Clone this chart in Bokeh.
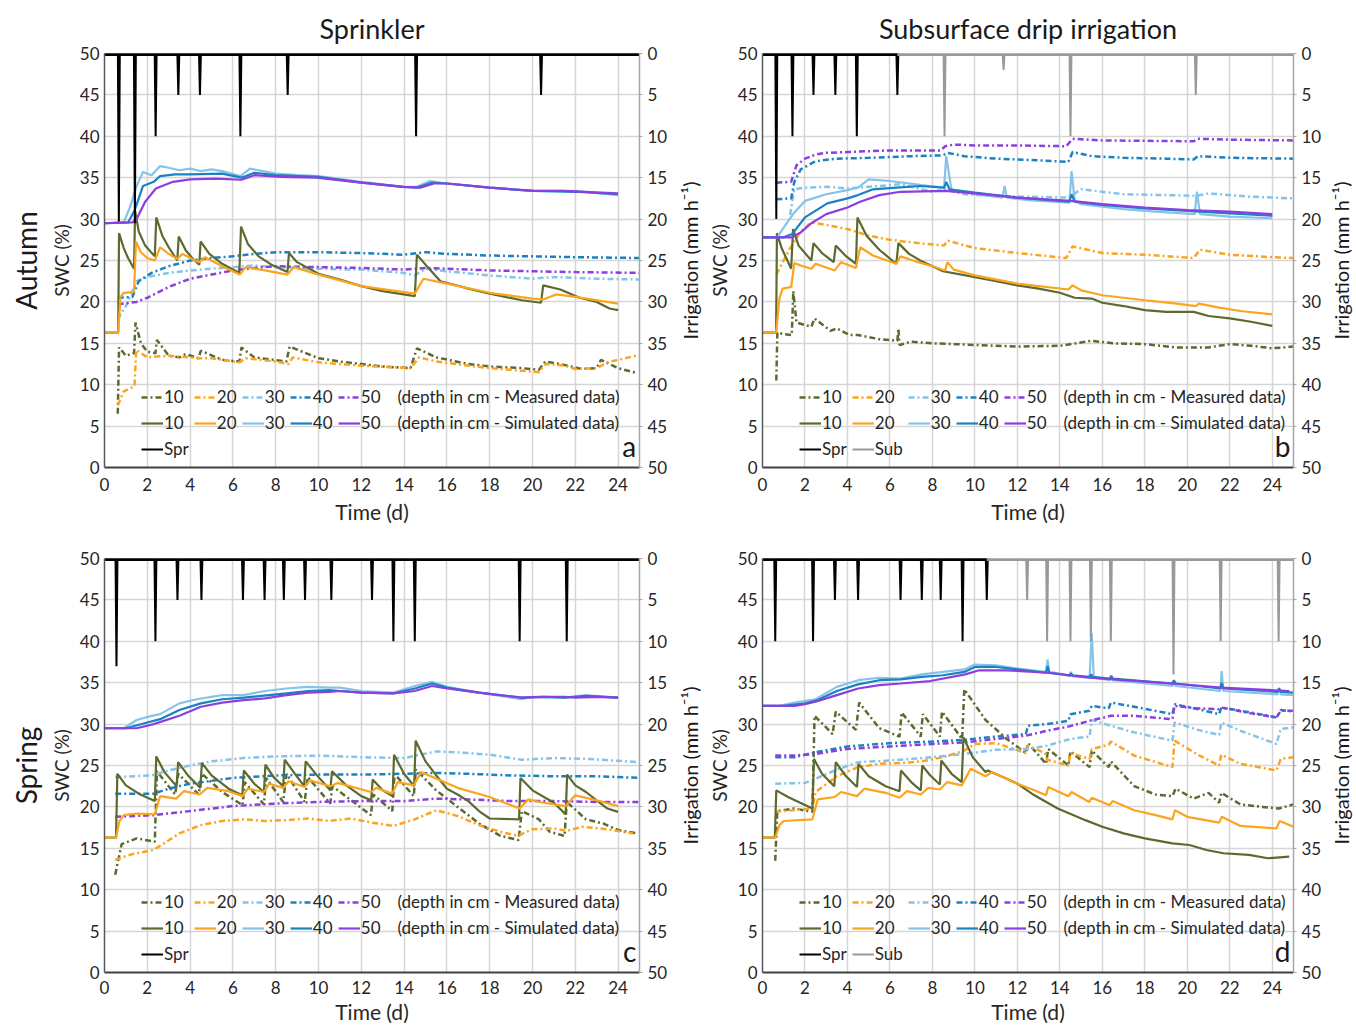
from bokeh.plotting import figure
from bokeh.models import (Range1d, LinearAxis, FixedTicker, Legend, LegendItem, Label, Title)
from bokeh.layouts import row, column
from bokeh.embed import file_html
from bokeh.resources import INLINE

FONT = "Lato"

# ---------------- ticks ----------------
x_ticks = [0, 2, 4, 6, 8, 10, 12, 14, 16, 18, 20, 22, 24]
swc_ticks = [0, 5, 10, 15, 20, 25, 30, 35, 40, 45, 50]
irr_ticks = [0, 5, 10, 15, 20, 25, 30, 35, 40, 45, 50]
depths = ["10", "20", "30", "40", "50"]
IRR_LABEL = "Irrigation (mm h\u207b\u00b9)"

# ---------------- colours ----------------
C10, C20, C30, C40, C50 = "#5b6a2e", "#fba41d", "#86c3ea", "#1a82bf", "#8b3fe0"
SPR_C, SUB_C = "#000000", "#999999"

# ================= Panel a : Sprinkler, Autumn =================
a_spr_t = [0.67, 1.42, 2.39, 3.45, 4.46, 6.35, 8.56, 14.56, 20.4]
a_spr_d = [20.3, 20.5, 10, 5, 5, 10, 5, 10, 5]

a_s10_t = [0, 0.64, 0.68, 0.9, 1.1, 1.38, 1.43, 1.6, 1.9, 2.35, 2.42, 2.7, 3.0, 3.4, 3.47, 3.8, 4.1, 4.43, 4.49, 4.9, 5.5, 6.3, 6.38, 6.7, 7.2, 7.8, 8.55, 8.62, 9.0, 10, 11, 12, 13, 14.5, 14.6, 15.0, 15.7, 16.3, 17, 18, 19.5, 20.4, 20.5, 21.3, 22.2, 23, 23.6, 24]
a_s10_v = [16.3, 16.3, 28.3, 26.5, 25.3, 24.0, 31.0, 28.5, 26.8, 25.5, 30.2, 28.0, 26.6, 25.0, 27.9, 26.2, 25.3, 24.5, 27.3, 25.8, 24.6, 23.5, 29.1, 27.0, 25.5, 24.5, 23.6, 25.9, 24.8, 23.4, 22.7, 21.9, 21.3, 20.7, 25.7, 24.5, 22.5, 22.1, 21.6, 21.0, 20.2, 19.9, 22.0, 21.5, 20.5, 20.0, 19.2, 19.0]
a_s20_t = [0, 0.64, 0.75, 0.9, 1.38, 1.47, 1.7, 2.0, 2.35, 2.6, 3.0, 3.4, 3.65, 4.0, 4.42, 4.7, 5.5, 6.32, 6.6, 7.5, 8.55, 8.85, 10, 12, 14.5, 14.9, 16, 18, 20, 20.5, 21.1, 22, 24]
a_s20_v = [16.3, 16.3, 20.6, 21.1, 21.2, 27.3, 26.0, 25.3, 25.0, 26.6, 25.8, 25.2, 25.8, 25.3, 24.8, 25.4, 24.3, 23.3, 24.2, 23.8, 23.3, 24.2, 23.3, 21.9, 21.0, 22.8, 22.2, 21.1, 20.4, 20.3, 20.9, 20.6, 19.8]
a_s30_t = [0, 0.9, 1.2, 1.5, 1.8, 2.2, 2.6, 3.0, 3.5, 4.0, 4.5, 5.0, 5.5, 6.35, 6.8, 8, 9, 10, 12, 14, 14.6, 15.2, 16, 18, 20, 22, 24]
a_s30_v = [29.5, 29.6, 31.5, 34.0, 35.7, 35.3, 36.4, 36.2, 35.9, 36.1, 35.8, 36.0, 35.8, 35.2, 36.1, 35.5, 35.3, 35.2, 34.5, 33.9, 33.9, 34.6, 34.3, 33.8, 33.4, 33.4, 32.9]
a_s40_t = [0, 1.1, 1.4, 1.8, 2.3, 2.6, 3.3, 4.0, 5.5, 6.4, 7.0, 8.0, 10, 12, 14, 14.6, 15.3, 16, 18, 20, 22, 24]
a_s40_v = [29.5, 29.6, 31.0, 34.0, 34.5, 35.2, 35.4, 35.4, 35.5, 35.0, 35.6, 35.3, 35.1, 34.4, 33.9, 33.8, 34.4, 34.3, 33.8, 33.4, 33.3, 33.0]
a_s50_t = [0, 1.3, 1.5, 1.9, 2.4, 3.2, 4.0, 5.2, 6.4, 7.0, 8.25, 9.9, 12, 13.9, 14.75, 15.4, 16, 18, 20.1, 21.4, 24]
a_s50_v = [29.5, 29.6, 30.0, 32.1, 33.7, 34.5, 34.8, 34.9, 34.75, 35.3, 35.1, 35.0, 34.4, 33.9, 33.8, 34.3, 34.3, 33.8, 33.4, 33.4, 33.1]

a_m10_t = [0.62, 0.68, 1.0, 1.38, 1.45, 1.7, 2.0, 2.38, 2.45, 3.0, 3.5, 3.8, 4.4, 4.5, 5.5, 6.3, 6.4, 7.0, 8.5, 8.65, 10, 11, 12, 13, 14.3, 14.6, 15.5, 17, 18, 19.5, 20.3, 20.6, 21.3, 22.3, 23, 23.2, 24, 24.9]
a_m10_v = [6.5, 14.5, 13.5, 13.8, 17.5, 15.0, 14.0, 13.8, 15.4, 13.5, 13.3, 13.7, 13.2, 14.1, 13.0, 12.8, 14.5, 13.3, 12.8, 14.6, 13.2, 12.8, 12.5, 12.2, 12.0, 14.4, 13.3, 12.5, 12.2, 12.0, 11.8, 12.8, 12.5, 11.9, 12.0, 13.0, 12.0, 11.4]
a_m20_t = [0.62, 0.9, 1.4, 1.48, 2.0, 3.0, 4.4, 5.0, 6.3, 6.6, 8.0, 8.6, 8.8, 10, 12, 14.3, 14.7, 15.5, 17, 18, 19, 20.3, 20.6, 21.5, 22, 23, 23.5, 24, 25]
a_m20_v = [7.5, 9.2, 9.8, 14.2, 13.3, 13.5, 13.2, 13.2, 12.7, 13.2, 12.8, 12.5, 13.3, 12.7, 12.3, 12.0, 13.3, 12.8, 12.3, 12.0, 11.8, 11.5, 12.5, 12.3, 11.9, 12.0, 12.7, 13.0, 13.6]
a_m30_t = [0.62, 1.0, 1.5, 2.0, 3.0, 4.0, 5.0, 6.0, 7.0, 8.0, 10, 12, 14, 14.5, 15, 16, 18, 20, 21, 23, 25]
a_m30_v = [17.9, 19.5, 22.5, 23.0, 23.5, 23.8, 24.0, 24.2, 24.4, 24.2, 24.0, 23.9, 23.5, 23.2, 24.0, 23.7, 23.2, 22.8, 23.0, 22.8, 22.7]
a_m40_t = [0.62, 1.3, 1.6, 2.2, 3.0, 4.0, 5.0, 6.0, 7.0, 8.0, 10, 12, 14, 15, 16, 18, 20, 22, 25]
a_m40_v = [20.5, 20.6, 22.5, 23.5, 24.3, 25.0, 25.3, 25.5, 25.8, 26.0, 26.0, 25.9, 25.7, 26.0, 25.8, 25.6, 25.5, 25.4, 25.3]
a_m50_t = [0.62, 1.5, 2.0, 3.0, 4.0, 5.0, 6.0, 7.0, 8.0, 10, 12, 14, 15, 16, 18, 20, 22, 25]
a_m50_v = [19.7, 20.0, 20.5, 21.8, 22.8, 23.3, 23.8, 24.1, 24.3, 24.2, 24.1, 23.9, 24.1, 24.0, 23.8, 23.7, 23.6, 23.5]

# ================= Panel b : Subsurface drip, Autumn =================
b_spr_t = [0.65, 1.41, 2.4, 3.43, 4.44, 6.35]
b_spr_d = [20, 10, 5, 5, 10, 5]
b_sub_t = [8.57, 11.35, 14.5, 20.4]
b_sub_d = [10, 2, 10, 5]

b_s10_t = [0, 0.64, 0.68, 0.9, 1.35, 1.44, 1.7, 2.3, 2.4, 2.8, 3.35, 3.45, 3.9, 4.4, 4.47, 4.9, 5.5, 6.3, 6.4, 6.9, 7.5, 8.5, 10, 11, 12, 13, 14, 14.7, 15.5, 16, 17, 18, 19, 20.3, 21, 22, 23, 24]
b_s10_v = [16.3, 16.3, 28.3, 26.5, 24.0, 28.8, 26.8, 25.0, 27.1, 25.9, 24.8, 26.8, 25.6, 24.6, 30.2, 28.0, 26.3, 24.6, 27.1, 25.8, 24.9, 23.7, 23.0, 22.5, 22.0, 21.6, 21.1, 20.5, 20.4, 19.9, 19.5, 19.0, 18.8, 18.8, 18.3, 18.0, 17.6, 17.1]
b_s20_t = [0, 0.64, 0.8, 0.95, 1.35, 1.5, 1.8, 2.3, 2.5, 3.4, 3.7, 4.4, 4.6, 5.2, 6.3, 6.5, 7.2, 8.0, 8.6, 8.7, 9.0, 10, 12, 14.4, 14.6, 15.0, 16, 18, 19.5, 20.4, 20.55, 21.5, 22.5, 24]
b_s20_v = [16.3, 16.3, 20.5, 21.6, 21.8, 24.7, 24.4, 24.0, 24.6, 23.8, 24.8, 24.1, 26.6, 25.6, 24.6, 25.5, 24.9, 24.3, 23.8, 24.8, 23.9, 23.2, 22.2, 21.5, 22.0, 21.4, 20.8, 20.2, 19.8, 19.5, 19.8, 19.3, 18.9, 18.5]
b_s30_t = [0, 0.7, 1.0, 1.5, 2.0, 3.0, 4.0, 4.5, 5.0, 6.0, 7.5, 8.55, 8.65, 8.9, 10, 11.3, 11.4, 11.5, 12.5, 14.45, 14.55, 14.7, 15, 17, 18.5, 20.35, 20.45, 20.6, 22, 24]
b_s30_v = [27.8, 27.8, 29.0, 30.8, 32.2, 33.0, 33.5, 33.8, 34.8, 34.6, 34.1, 33.8, 37.6, 33.5, 33.0, 32.6, 34.0, 32.6, 32.3, 32.0, 35.8, 32.2, 31.8, 31.2, 30.9, 30.6, 33.3, 30.6, 30.3, 30.1]
b_s40_t = [0, 1.0, 1.4, 2.0, 3.05, 4.0, 4.5, 5.2, 6.3, 7.4, 8.55, 8.65, 8.8, 10, 12, 14.45, 14.55, 14.7, 16, 18, 20, 22, 24]
b_s40_v = [27.8, 27.8, 28.2, 30.2, 31.9, 32.5, 32.9, 33.6, 33.8, 34.0, 33.8, 34.5, 33.6, 33.2, 32.6, 32.1, 33.0, 32.1, 31.7, 31.3, 31.0, 30.7, 30.4]
b_s50_t = [0, 1.4, 1.8, 2.3, 3.0, 4.0, 4.6, 5.5, 6.5, 8.6, 10, 12, 14.5, 16, 18, 20, 22, 24]
b_s50_v = [27.8, 27.8, 28.4, 29.5, 30.6, 31.4, 32.1, 32.9, 33.3, 33.4, 33.1, 32.6, 32.2, 31.8, 31.4, 31.1, 30.9, 30.6]

b_m10_t = [0.65, 0.7, 1.0, 1.38, 1.45, 1.6, 2.3, 2.45, 3.2, 3.5, 4.1, 4.5, 5.5, 6.35, 6.4, 6.45, 7.0, 8.0, 10, 12, 14, 15.5, 16.5, 18, 19.5, 21, 22, 23, 24, 25]
b_m10_v = [10.5, 16.3, 16.1, 16.0, 21.3, 17.5, 17.0, 18.0, 16.5, 16.8, 16.0, 16.0, 15.5, 15.3, 16.8, 14.8, 15.2, 15.0, 14.8, 14.6, 14.7, 15.3, 15.0, 14.9, 14.5, 14.5, 14.9, 14.7, 14.4, 14.6]
b_m20_t = [0.65, 1.3, 1.8, 2.3, 3.0, 4.0, 5.0, 6.0, 7.0, 8.55, 8.7, 10, 12, 14.3, 14.6, 16, 18, 20.3, 20.6, 22, 24, 25]
b_m20_v = [23.3, 26.5, 28.5, 29.6, 29.3, 28.8, 28.0, 27.5, 27.2, 26.8, 27.4, 26.5, 25.9, 25.3, 26.7, 25.9, 25.7, 25.3, 26.3, 25.7, 25.4, 25.3]
b_m30_t = [1.3, 1.5, 2.0, 3.0, 4.0, 5.0, 6.5, 8.0, 8.6, 9.5, 11, 12.5, 14.4, 15, 17, 19, 20.4, 21, 23, 25]
b_m30_v = [30.5, 33.6, 33.8, 33.9, 33.7, 33.9, 34.2, 33.3, 33.6, 33.0, 32.8, 32.7, 32.6, 33.6, 33.0, 32.9, 32.8, 33.1, 32.7, 32.5]
b_m40_t = [0.65, 1.35, 1.5, 1.8, 2.5, 3.5, 5.0, 7.0, 8.5, 8.7, 9.5, 11, 13, 14.4, 14.6, 15.5, 17, 19, 20.3, 20.5, 22, 25]
b_m40_v = [32.4, 32.5, 34.5, 36.0, 37.0, 37.3, 37.4, 37.6, 37.7, 38.0, 37.6, 37.3, 37.1, 36.9, 38.1, 37.6, 37.4, 37.3, 37.2, 37.6, 37.4, 37.3]
b_m50_t = [0.65, 1.35, 1.6, 2.0, 2.5, 3.0, 4.0, 5.0, 6.0, 8.4, 8.6, 9.0, 10, 12, 14.3, 14.6, 16, 20.3, 20.5, 22, 25]
b_m50_v = [34.4, 34.5, 36.5, 37.3, 37.8, 38.0, 38.1, 38.2, 38.3, 38.3, 38.8, 39.0, 38.9, 38.9, 38.8, 39.7, 39.5, 39.4, 39.7, 39.6, 39.5]

# ================= Panel c : Sprinkler, Spring =================
c_spr_t = [0.56, 2.38, 3.41, 4.53, 6.47, 7.48, 8.38, 9.37, 10.6, 12.5, 13.5, 14.5, 19.4, 21.6]
c_spr_d = [13, 10, 5, 5, 5, 5, 5, 5, 5, 5, 10, 10, 10, 10]

c_s10_t = [0, 0.54, 0.6, 1.0, 1.6, 2.35, 2.42, 2.8, 3.37, 3.44, 3.9, 4.48, 4.55, 5.0, 5.8, 6.44, 6.51, 7.0, 7.45, 7.52, 7.9, 8.35, 8.42, 8.9, 9.33, 9.4, 9.9, 10.55, 10.63, 11.3, 12.0, 12.46, 12.53, 13.0, 13.46, 13.53, 14.0, 14.47, 14.54, 15.0, 15.5, 16.0, 16.5, 17.0, 17.5, 18.0, 19.37, 19.44, 20.0, 21.0, 21.55, 21.62, 22.0, 22.5, 23.0, 23.5, 24.0]
c_s10_v = [16.3, 16.3, 24.0, 22.6, 21.6, 20.7, 26.1, 24.2, 22.5, 25.4, 23.8, 22.3, 25.3, 23.8, 22.2, 21.4, 24.4, 22.8, 21.8, 25.1, 23.6, 22.5, 25.7, 24.0, 22.5, 25.5, 23.9, 22.0, 24.3, 22.6, 21.3, 20.8, 23.3, 22.0, 21.3, 26.3, 24.0, 22.5, 28.0, 25.5, 23.8, 22.2, 21.5, 20.7, 19.5, 18.6, 18.5, 23.5, 22.0, 20.5, 19.1, 23.9, 22.6, 21.8, 20.8, 19.8, 19.4]
c_s20_t = [0, 0.54, 0.7, 0.9, 1.5, 2.35, 2.6, 3.35, 3.7, 4.45, 4.8, 5.8, 6.45, 6.7, 7.45, 7.7, 8.35, 8.6, 9.35, 9.6, 10.55, 10.9, 12.45, 12.7, 13.45, 13.7, 14.45, 14.8, 15.6, 16.5, 18, 19.4, 19.8, 20.5, 21.55, 22.0, 23.0, 24.0]
c_s20_v = [16.3, 16.3, 18.3, 19.0, 19.2, 19.1, 21.3, 21.0, 21.9, 21.5, 22.3, 21.9, 21.3, 22.2, 21.8, 22.8, 22.3, 23.1, 22.4, 23.2, 22.5, 22.9, 21.8, 22.3, 21.6, 23.0, 22.6, 24.2, 23.3, 22.3, 21.2, 19.8, 20.9, 20.5, 20.1, 21.4, 20.8, 20.1]
c_s30_t = [0, 0.9, 1.5, 2.2, 2.6, 3.5, 4.3, 5.5, 6.5, 7.5, 8.5, 9.5, 10.5, 11, 12, 13.5, 14.5, 15.3, 16, 17.5, 19.5, 20, 21.5, 22.5, 24]
c_s30_v = [29.5, 29.5, 30.5, 31.0, 31.2, 32.5, 33.0, 33.5, 33.5, 34.0, 34.3, 34.5, 34.4, 34.4, 34.0, 33.8, 34.6, 35.1, 34.5, 33.8, 33.0, 33.3, 33.2, 33.5, 33.2]
c_s40_t = [0, 1.0, 2.0, 2.6, 3.5, 4.5, 5.5, 6.5, 8.5, 9.5, 10.5, 11, 12, 13.5, 14.5, 15.3, 16, 17.5, 19.5, 20.5, 21.5, 22.5, 24]
c_s40_v = [29.5, 29.5, 30.2, 30.6, 31.7, 32.5, 33.0, 33.2, 33.7, 34.0, 34.1, 34.0, 33.8, 33.7, 34.3, 34.9, 34.4, 33.8, 33.2, 33.3, 33.2, 33.4, 33.2]
c_s50_t = [0, 1.5, 2.3, 3.5, 4.5, 5.5, 6.5, 7.5, 8.5, 9.5, 10.5, 11, 12, 13.5, 14.5, 15.3, 16, 17.5, 19.5, 20.5, 21.5, 22, 23, 24]
c_s50_v = [29.5, 29.5, 30.0, 31.0, 32.1, 32.6, 32.9, 33.1, 33.5, 33.8, 33.9, 34.0, 33.8, 33.7, 34.0, 34.6, 34.3, 33.8, 33.2, 33.3, 33.3, 33.2, 33.3, 33.2]

c_m10_t = [0.5, 0.8, 1.5, 2.35, 2.45, 3.3, 3.45, 4.4, 4.55, 5.5, 6.45, 6.55, 7.45, 7.55, 8.35, 8.5, 9.35, 9.5, 10.55, 10.65, 12.45, 12.55, 13.45, 13.55, 14.45, 14.55, 15.5, 16.5, 17.5, 18.5, 19.35, 19.5, 20.3, 20.8, 21.5, 21.6, 22.5, 23.3, 24, 24.9]
c_m10_v = [11.8, 15.5, 16.2, 15.8, 24.3, 21.5, 24.0, 21.5, 24.0, 21.8, 20.2, 23.0, 20.3, 23.5, 20.6, 24.0, 20.6, 23.6, 20.4, 22.5, 19.0, 21.5, 19.5, 24.0, 21.3, 24.5, 22.0, 20.0, 18.0, 16.5, 16.0, 19.5, 18.5, 17.0, 16.5, 20.6, 18.5, 18.0, 17.2, 16.8]
c_m20_t = [0.5, 1.3, 2.3, 2.6, 3.5, 4.5, 5.5, 6.5, 7.5, 8.5, 9.5, 10.5, 11.5, 12.5, 13.5, 14.5, 15.5, 16.5, 17.5, 18.5, 19.3, 20, 21, 21.6, 22.3, 23.5, 24.7]
c_m20_v = [13.6, 14.3, 14.8, 15.3, 16.8, 17.8, 18.3, 18.5, 18.3, 18.4, 18.6, 18.3, 18.6, 18.1, 17.7, 18.5, 19.6, 18.9, 17.8, 17.0, 16.5, 17.3, 17.4, 17.1, 17.6, 17.3, 16.8]
c_m30_t = [0.5, 2.2, 3.0, 4.0, 5.0, 6.5, 8.0, 10.0, 12.0, 14.0, 15.5, 16.5, 18.0, 19.5, 21.0, 22.5, 25.0]
c_m30_v = [23.6, 23.8, 24.4, 25.0, 25.5, 25.9, 26.1, 26.2, 26.0, 25.9, 26.7, 26.6, 26.3, 25.7, 25.9, 25.8, 25.4]
c_m40_t = [0.5, 2.3, 3.0, 4.0, 6.0, 8.0, 10, 12, 14, 15.5, 17, 19, 21, 23, 25]
c_m40_v = [21.6, 21.6, 22.2, 22.8, 23.5, 23.8, 23.9, 23.9, 24.0, 24.1, 24.0, 23.8, 23.7, 23.7, 23.5]
c_m50_t = [0.5, 2.3, 4.0, 6.0, 8.0, 10, 12, 14, 15.5, 17, 19, 21, 23, 25]
c_m50_v = [18.8, 19.0, 19.5, 20.1, 20.4, 20.6, 20.7, 20.7, 21.0, 20.9, 20.7, 20.7, 20.6, 20.6]

# ================= Panel d : Subsurface drip, Spring =================
d_spr_t = [0.6, 2.38, 3.41, 4.5, 6.5, 7.5, 8.39, 9.42, 10.56]
d_spr_d = [10, 10, 5, 5, 5, 5, 5, 10, 5]
d_sub_t = [12.46, 13.4, 14.5, 15.46, 16.4, 19.35, 21.57, 24.3]
d_sub_d = [5, 10, 10, 10, 10, 14, 10, 10]

d_s10_t = [0, 0.58, 0.65, 1.2, 2.35, 2.42, 2.8, 3.38, 3.45, 3.9, 4.45, 4.52, 5.0, 5.8, 6.45, 6.52, 7.0, 7.45, 7.52, 7.9, 8.35, 8.42, 8.9, 9.38, 9.46, 9.9, 10.5, 10.6, 11.5, 12.0, 12.8, 13.9, 15.2, 16.0, 17.0, 18.0, 19.3, 20.1, 20.9, 21.7, 22.9, 23.8, 24.8]
d_s10_v = [16.3, 16.3, 22.0, 21.2, 19.8, 25.8, 24.0, 22.5, 25.4, 23.8, 22.4, 25.2, 23.7, 22.5, 21.9, 24.4, 23.0, 22.0, 25.0, 23.8, 22.7, 25.6, 24.0, 23.0, 28.4, 26.0, 24.2, 24.4, 23.4, 22.8, 21.4, 19.8, 18.4, 17.6, 16.8, 16.2, 15.6, 15.4, 14.8, 14.4, 14.2, 13.8, 14.0]
d_s20_t = [0, 0.6, 0.8, 1.0, 2.35, 2.6, 3.4, 3.7, 4.45, 4.8, 5.8, 6.45, 6.8, 7.45, 7.8, 8.35, 8.7, 9.38, 9.8, 10.5, 10.8, 11.8, 12.8, 13.35, 13.45, 14.4, 14.55, 15.38, 15.5, 16.35, 16.48, 17.5, 18.5, 19.3, 19.42, 20.0, 21.5, 21.62, 22.5, 24.2, 24.35, 25.0]
d_s20_v = [16.3, 16.3, 17.8, 18.3, 18.5, 20.9, 21.2, 21.8, 21.3, 22.2, 21.7, 21.1, 21.9, 21.5, 22.3, 22.1, 23.0, 22.6, 24.6, 23.7, 24.2, 23.0, 22.0, 21.4, 22.4, 21.3, 21.8, 20.6, 21.1, 20.2, 20.7, 19.6, 19.0, 18.5, 19.6, 18.8, 18.1, 18.8, 17.7, 17.4, 18.3, 17.6]
d_s30_t = [0, 0.8, 1.5, 2.5, 3.5, 4.5, 5.5, 6.5, 7.5, 8.5, 9.5, 10.0, 11.0, 12.0, 13.35, 13.42, 13.5, 14.0, 14.45, 14.52, 14.6, 15.4, 15.5, 15.6, 16.35, 16.42, 16.5, 19.3, 19.37, 19.45, 21.55, 21.62, 21.7, 24.25, 24.32, 24.4, 25.0]
d_s30_v = [32.2, 32.2, 32.6, 33.0, 34.5, 35.3, 35.6, 35.5, 36.0, 36.3, 36.6, 37.2, 37.1, 36.7, 36.3, 37.8, 36.3, 36.1, 35.8, 36.3, 35.8, 35.6, 41.0, 35.6, 35.3, 35.9, 35.3, 34.6, 35.2, 34.6, 34.0, 36.4, 34.0, 33.6, 34.4, 33.6, 33.5]
d_s40_t = [0, 1.0, 2.0, 2.6, 3.5, 4.5, 5.5, 6.5, 7.5, 8.5, 9.5, 10.0, 11.0, 12.0, 13.35, 13.42, 13.5, 14.45, 14.52, 14.6, 15.4, 15.47, 15.55, 16.35, 16.42, 16.5, 19.3, 19.37, 19.45, 21.55, 21.62, 21.7, 24.25, 24.32, 24.4, 25.0]
d_s40_v = [32.2, 32.2, 32.5, 32.9, 34.0, 34.8, 35.3, 35.4, 35.7, 35.9, 36.3, 36.9, 36.9, 36.6, 36.2, 37.0, 36.2, 35.9, 36.1, 35.9, 35.7, 36.0, 35.7, 35.5, 35.8, 35.5, 34.9, 35.3, 34.9, 34.3, 35.0, 34.3, 33.9, 34.3, 33.9, 33.8]
d_s50_t = [0, 1.5, 2.0, 2.5, 3.5, 4.5, 5.5, 6.5, 7.9, 9.55, 10.2, 11.5, 13.4, 15.4, 17.7, 19.3, 21.6, 24.8]
d_s50_v = [32.2, 32.2, 32.4, 32.7, 33.5, 34.3, 34.7, 34.9, 35.2, 36.0, 36.5, 36.5, 36.2, 35.6, 35.2, 34.9, 34.4, 34.0]

d_m10_t = [0.6, 0.7, 1.5, 2.35, 2.45, 3.3, 3.45, 4.4, 4.55, 5.5, 6.45, 6.55, 7.45, 7.55, 8.35, 8.45, 9.4, 9.5, 10.5, 11.5, 12.4, 12.5, 13.35, 13.45, 14.4, 14.5, 15.4, 15.5, 16.3, 16.4, 17.5, 18.5, 19.3, 19.45, 20.3, 21.0, 21.5, 21.6, 22.5, 23.5, 24.3, 25]
d_m10_v = [13.5, 19.5, 19.8, 19.4, 31.0, 28.8, 31.5, 29.3, 32.6, 29.5, 28.5, 31.4, 28.5, 31.2, 28.5, 31.5, 28.2, 34.2, 30.5, 28.2, 26.5, 27.7, 25.2, 27.0, 25.0, 26.7, 24.8, 26.8, 24.8, 25.5, 22.5, 21.5, 21.3, 22.2, 21.0, 21.7, 20.5, 21.7, 20.3, 20.0, 19.8, 20.3]
d_m20_t = [0.6, 2.35, 2.5, 3.5, 4.5, 5.5, 6.5, 7.5, 8.5, 9.5, 10.0, 11.0, 12.4, 12.5, 13.3, 13.4, 14.4, 14.5, 15.4, 15.5, 16.3, 16.4, 17.5, 19.3, 19.4, 20.5, 21.5, 21.6, 22.5, 24.2, 24.4, 25]
d_m20_v = [19.4, 19.8, 21.8, 23.7, 24.8, 25.2, 25.3, 25.5, 26.0, 26.8, 27.6, 27.7, 26.5, 27.4, 26.5, 25.7, 25.0, 26.5, 25.8, 27.0, 27.5, 27.9, 26.2, 24.8, 28.0, 26.3, 25.0, 26.3, 25.2, 24.4, 25.8, 26.0]
d_m30_t = [0.6, 2.0, 2.4, 3.5, 4.5, 6.0, 8.0, 9.5, 11.0, 12.5, 13.4, 14.5, 15.4, 15.5, 16.4, 17.5, 19.3, 19.4, 20.5, 21.5, 21.6, 22.5, 24.2, 24.4, 25.0]
d_m30_v = [22.8, 22.9, 23.3, 24.5, 25.4, 25.6, 26.0, 26.4, 26.9, 27.0, 27.4, 28.2, 28.5, 30.5, 29.8, 29.0, 28.0, 30.2, 29.3, 28.7, 30.2, 29.2, 27.6, 29.4, 29.6]
d_m40_t = [0.6, 1.5, 2.5, 4.0, 6.0, 8.0, 9.5, 11.0, 12.4, 12.5, 13.4, 14.4, 14.5, 15.4, 15.5, 16.3, 16.4, 17.5, 19.3, 19.4, 20.5, 21.5, 21.6, 23.0, 24.2, 24.4, 25.0]
d_m40_v = [26.0, 26.0, 26.6, 27.3, 27.7, 27.9, 28.1, 28.5, 28.8, 29.8, 30.0, 30.4, 31.2, 31.6, 32.2, 31.9, 32.6, 32.1, 31.2, 32.4, 31.8, 31.2, 32.0, 31.4, 30.8, 31.7, 31.5]
d_m50_t = [0.6, 1.5, 2.5, 4.0, 6.0, 8.0, 9.5, 11.0, 12.4, 13.4, 14.4, 15.4, 16.4, 17.5, 19.3, 19.4, 20.5, 21.5, 21.6, 23.0, 24.2, 24.4, 25.0]
d_m50_v = [26.2, 26.2, 26.4, 27.0, 27.3, 27.6, 27.8, 28.2, 28.6, 29.2, 29.7, 30.4, 31.0, 31.0, 30.6, 32.2, 31.9, 31.8, 32.0, 31.3, 30.8, 31.6, 31.6]


def spikes(times, dep, start, end, half=0.045):
    xs, ys = [start], [0.0]
    for t, d in zip(times, dep):
        xs += [t - half, t, t + half]
        ys += [0.0, d, 0.0]
    xs.append(end)
    ys.append(0.0)
    return xs, ys


def side_title(text, size, standoff):
    return Title(text=text, align="center", text_font=FONT, text_font_size=size,
                 text_font_style="normal", text_color="#1a1a1a", standoff=standoff)


def make_panel(width, height, bl, br, bt, bb, meas, sims, spr, sub, letter,
               title=None, row_label=None, left_irr=False):
    p = figure(width=width, height=height, x_range=Range1d(0, 25), y_range=Range1d(0, 50),
               output_backend="svg", toolbar_location=None,
               min_border_left=bl, min_border_right=br, min_border_top=bt, min_border_bottom=bb)
    p.background_fill_color = "white"
    p.border_fill_color = "white"
    p.outline_line_color = None
    if title:
        p.title.text = title
        p.title.align = "center"
        p.title.text_font = FONT
        p.title.text_font_size = "27px"
        p.title.text_font_style = "normal"
        p.title.text_color = "#1a1a1a"
        p.title.standoff = 18
    if row_label:
        p.add_layout(side_title(row_label, "28px", 8), "left")
    if left_irr:
        # right-hand axis title of the neighbouring panel on the left
        p.add_layout(side_title(IRR_LABEL, "20px", 6), "left")

    p.extra_y_ranges = {"irr": Range1d(50, 0)}

    p.xgrid.ticker = FixedTicker(ticks=x_ticks)
    p.ygrid.ticker = FixedTicker(ticks=swc_ticks)
    for g in (p.xgrid[0], p.ygrid[0]):
        g.grid_line_color = "#d6d6d6"
        g.grid_line_width = 1.5

    la = p.yaxis[0]
    la.ticker = FixedTicker(ticks=swc_ticks)
    la.axis_label = "SWC (%)"
    ba = p.xaxis[0]
    ba.ticker = FixedTicker(ticks=x_ticks)
    ba.axis_label = "Time (d)"
    ra = LinearAxis(y_range_name="irr", ticker=FixedTicker(ticks=irr_ticks))
    p.add_layout(ra, "right")

    for ax in (la, ba, ra):
        ax.major_label_text_font = FONT
        ax.major_label_text_font_size = "17px"
        ax.major_label_text_color = "#262626"
        ax.axis_label_text_font = FONT
        ax.axis_label_text_font_style = "normal"
        ax.axis_label_text_color = "#262626"
        ax.minor_tick_line_color = None
        ax.major_tick_in = 0
    la.axis_label_text_font_size = "19px"
    ba.axis_label_text_font_size = "21px"
    la.major_tick_out = 0
    la.major_label_standoff = 5
    la.axis_label_standoff = 4
    la.axis_line_color = "#595959"
    la.axis_line_width = 1.5
    ra.major_tick_out = 3
    ra.major_tick_line_color = "#a6a6a6"
    ra.major_label_standoff = 5
    ra.axis_line_color = "#a6a6a6"
    ra.axis_line_width = 1.5
    ba.major_tick_out = 0
    ba.axis_line_color = "#404040"
    ba.axis_line_width = 2
    if bb > 60:
        ba.major_label_standoff = 10
        ba.axis_label_standoff = 5
    else:
        ba.major_label_standoff = 8
        ba.axis_label_standoff = 2

    colors = [C10, C20, C30, C40, C50]
    m_r, s_r = [], []
    for (t, v), c in zip(meas, colors):
        m_r.append(p.line(t, v, line_color=c, line_width=2.5, line_dash="6 3 2 3"))
    for (t, v), c in zip(sims, colors):
        s_r.append(p.line(t, v, line_color=c, line_width=2.2))

    items = []
    for i, d in enumerate(depths):
        lab = d if i < 4 else d + "\u2002\u2002(depth in cm - Measured data)"
        items.append(LegendItem(label=lab, renderers=[m_r[i]]))
    for i, d in enumerate(depths):
        lab = d if i < 4 else d + "\u2002\u2002(depth in cm - Simulated data)"
        items.append(LegendItem(label=lab, renderers=[s_r[i]]))

    spr_t, spr_d = spr
    spr_end = 25 if sub is None else spr_t[-1]
    xs, ys = spikes(spr_t, spr_d, 0, spr_end)
    r_spr = p.line(xs, ys, y_range_name="irr", line_color=SPR_C, line_width=2)
    p.line([0, spr_end], [0, 0], y_range_name="irr", line_color=SPR_C, line_width=5)
    items.append(LegendItem(label="Spr", renderers=[r_spr]))
    if sub is not None:
        sub_t, sub_d = sub
        xs, ys = spikes(sub_t, sub_d, spr_end, 25)
        r_sub = p.line(xs, ys, y_range_name="irr", line_color=SUB_C, line_width=2)
        p.line([spr_end, 25], [0, 0], y_range_name="irr", line_color=SUB_C, line_width=5)
        items.append(LegendItem(label="Sub", renderers=[r_sub]))

    leg = Legend(items=items, orientation="horizontal", ncols=5, location=(37, 8),
                 label_text_font=FONT, label_text_font_size="17px", label_text_color="#262626",
                 glyph_width=22, glyph_height=20, label_height=20, label_standoff=1,
                 spacing=5, padding=0, margin=0, border_line_color=None,
                 background_fill_alpha=0)
    p.add_layout(leg)

    p.add_layout(Label(x=24.85, y=0.6, text=letter, text_align="right", text_baseline="bottom",
                       text_font=FONT, text_font_size="28px", text_color="#1a1a1a"))
    return p


def label_strip(height, bt, bb):
    """Narrow strip carrying the right-hand axis title of the rightmost panel."""
    s = figure(width=31, height=height, x_range=Range1d(0, 1), y_range=Range1d(0, 1),
               x_axis_type=None, y_axis_type=None, output_backend="svg", toolbar_location=None,
               min_border_left=29, min_border_right=0, min_border_top=bt, min_border_bottom=bb)
    s.outline_line_color = None
    s.grid.visible = False
    s.add_layout(side_title(IRR_LABEL, "20px", 1), "left")
    return s


pa = make_panel(672, 535, 104, 33, 53, 68,
                [(a_m10_t, a_m10_v), (a_m20_t, a_m20_v), (a_m30_t, a_m30_v), (a_m40_t, a_m40_v), (a_m50_t, a_m50_v)],
                [(a_s10_t, a_s10_v), (a_s20_t, a_s20_v), (a_s30_t, a_s30_v), (a_s40_t, a_s40_v), (a_s50_t, a_s50_v)],
                (a_spr_t, a_spr_d), None, "a", title="Sprinkler", row_label="Autumn")
pb = make_panel(652, 535, 89, 30, 53, 68,
                [(b_m10_t, b_m10_v), (b_m20_t, b_m20_v), (b_m30_t, b_m30_v), (b_m40_t, b_m40_v), (b_m50_t, b_m50_v)],
                [(b_s10_t, b_s10_v), (b_s20_t, b_s20_v), (b_s30_t, b_s30_v), (b_s40_t, b_s40_v), (b_s50_t, b_s50_v)],
                (b_spr_t, b_spr_d), (b_sub_t, b_sub_d), "b", title="Subsurface drip irrigation",
                left_irr=True)
pc = make_panel(672, 492, 104, 33, 23, 55,
                [(c_m10_t, c_m10_v), (c_m20_t, c_m20_v), (c_m30_t, c_m30_v), (c_m40_t, c_m40_v), (c_m50_t, c_m50_v)],
                [(c_s10_t, c_s10_v), (c_s20_t, c_s20_v), (c_s30_t, c_s30_v), (c_s40_t, c_s40_v), (c_s50_t, c_s50_v)],
                (c_spr_t, c_spr_d), None, "c", row_label="Spring")
pd_ = make_panel(652, 492, 89, 30, 23, 55,
                 [(d_m10_t, d_m10_v), (d_m20_t, d_m20_v), (d_m30_t, d_m30_v), (d_m40_t, d_m40_v), (d_m50_t, d_m50_v)],
                 [(d_s10_t, d_s10_v), (d_s20_t, d_s20_v), (d_s30_t, d_s30_v), (d_s40_t, d_s40_v), (d_s50_t, d_s50_v)],
                 (d_spr_t, d_spr_d), (d_sub_t, d_sub_d), "d", left_irr=True)

layout = column(row(pa, pb, label_strip(535, 53, 68)), row(pc, pd_, label_strip(492, 23, 55)))
open("out.html", "w").write(file_html(layout, INLINE))
